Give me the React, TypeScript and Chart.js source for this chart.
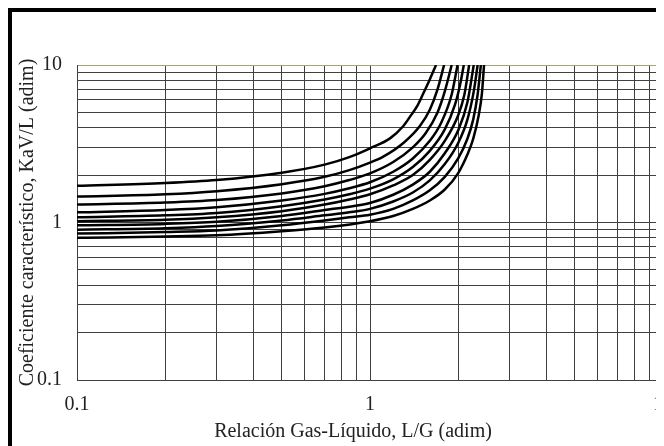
import React, { useEffect, useRef } from "react";
import { Chart, registerables } from "chart.js";

Chart.register(...registerables);

// Grid (log minor ticks) and labelled ticks
const GRID_TICKS = [0.1, 0.2, 0.3, 0.4, 0.5, 0.6, 0.7, 0.8, 0.9, 1, 2, 3, 4, 5, 6, 7, 8, 9, 10];
const LABELED_TICKS = [0.1, 1, 10];

const X_TITLE = "Relación Gas-Líquido, L/G (adim)";
const Y_TITLE = "Coeficiente característico, KaV/L (adim)";

// Characteristic curves: [L/G, KaV/L]
const curve1 = [[0.1, 1.71], [0.2, 1.78], [0.3, 1.86], [0.5, 2.07], [0.7, 2.33], [0.85, 2.6], [1.0, 2.96], [1.17, 3.42], [1.3, 4.1], [1.37, 4.7], [1.45, 5.5], [1.52, 6.6], [1.6, 8.1], [1.68, 10]];
const curve2 = [[0.1, 1.46], [0.2, 1.51], [0.3, 1.58], [0.5, 1.75], [0.7, 1.95], [0.85, 2.15], [1.0, 2.4], [1.11, 2.62], [1.3, 3.2], [1.48, 4.1], [1.6, 5.2], [1.7, 7.0], [1.79, 10]];
const curve3 = [[0.1, 1.3], [0.2, 1.34], [0.3, 1.39], [0.5, 1.53], [0.7, 1.7], [0.85, 1.86], [1.0, 2.05], [1.2, 2.42], [1.4, 3.0], [1.55, 3.7], [1.7, 5.0], [1.8, 6.8], [1.9, 10]];
const curve4 = [[0.1, 1.16], [0.2, 1.2], [0.3, 1.25], [0.5, 1.38], [0.7, 1.52], [0.85, 1.65], [1.0, 1.8], [1.2, 2.1], [1.4, 2.55], [1.6, 3.3], [1.75, 4.3], [1.9, 6.5], [1.99, 10]];
const curve5 = [[0.1, 1.08], [0.2, 1.11], [0.3, 1.15], [0.5, 1.27], [0.7, 1.4], [0.85, 1.51], [1.0, 1.64], [1.2, 1.88], [1.4, 2.25], [1.6, 2.85], [1.8, 3.9], [1.95, 5.6], [2.03, 7.5], [2.09, 10]];
const curve6 = [[0.1, 1.02], [0.2, 1.04], [0.3, 1.08], [0.5, 1.18], [0.7, 1.3], [0.85, 1.4], [1.0, 1.51], [1.2, 1.72], [1.4, 2.0], [1.6, 2.5], [1.8, 3.3], [2.0, 4.8], [2.1, 6.5], [2.18, 10]];
const curve7 = [[0.1, 0.96], [0.2, 0.98], [0.3, 1.01], [0.5, 1.1], [0.7, 1.2], [0.85, 1.26], [1.0, 1.33], [1.2, 1.5], [1.4, 1.74], [1.6, 2.1], [1.8, 2.75], [2.0, 3.85], [2.15, 5.8], [2.26, 10]];
const curve8 = [[0.1, 0.9], [0.2, 0.92], [0.3, 0.95], [0.5, 1.03], [0.7, 1.11], [0.85, 1.16], [1.0, 1.22], [1.2, 1.36], [1.4, 1.55], [1.6, 1.85], [1.8, 2.35], [2.0, 3.2], [2.15, 4.5], [2.26, 6.8], [2.33, 10]];
const curve9 = [[0.1, 0.85], [0.2, 0.87], [0.3, 0.89], [0.5, 0.96], [0.7, 1.03], [0.85, 1.08], [1.0, 1.12], [1.2, 1.22], [1.4, 1.38], [1.6, 1.6], [1.8, 1.95], [2.0, 2.55], [2.15, 3.4], [2.25, 4.5], [2.33, 6.5], [2.39, 10]];
const curve10 = [[0.1, 0.8], [0.3, 0.83], [0.5, 0.88], [0.7, 0.93], [1.0, 1.02], [1.2, 1.1], [1.4, 1.22], [1.6, 1.38], [1.8, 1.62], [2.0, 2.06], [2.15, 2.7], [2.25, 3.4], [2.35, 4.8], [2.41, 6.6], [2.45, 10]];

const CURVES = [curve1, curve2, curve3, curve4, curve5, curve6, curve7, curve8, curve9, curve10];

const FONT_FAMILY = "'Liberation Serif', 'Times New Roman', serif";
const FONT_SIZE = 20;
const TEXT_COLOR = "#222";
const GRID_COLOR = "#404040";
const TOP_LINE_COLOR = "#a8a27a";

function setGridTicks(scale: any) {
  scale.ticks = GRID_TICKS.map((v) => ({ value: v }));
}

function tickLabel(value: any) {
  return LABELED_TICKS.includes(Number(value)) ? String(value) : "";
}

// x-axis title, drawn slightly left of the plot centre as in the original
const xTitlePlugin = {
  id: "xTitle",
  afterDraw(chart: any) {
    const { ctx, chartArea } = chart;
    ctx.save();
    ctx.font = `${FONT_SIZE}px ${FONT_FAMILY}`;
    ctx.fillStyle = TEXT_COLOR;
    ctx.textAlign = "center";
    ctx.textBaseline = "middle";
    const cx = (chartArea.left + chartArea.right) / 2 - 17;
    ctx.fillText(X_TITLE, cx, chart.height - 14);
    ctx.restore();
  },
};

export default function App() {
  const canvasRef = useRef<HTMLCanvasElement | null>(null);

  useEffect(() => {
    const canvas = canvasRef.current;
    if (!canvas) return;
    const chart = new Chart(canvas, {
      type: "scatter",
      data: {
        datasets: CURVES.map((c, i) => ({
          label: "curve " + (i + 1),
          data: c.map(([x, y]) => ({ x, y })),
          showLine: true,
          borderColor: "#000",
          borderWidth: 2.5,
          pointRadius: 0,
          pointHoverRadius: 0,
          cubicInterpolationMode: "monotone" as const,
          fill: false,
        })),
      },
      options: {
        animation: false,
        responsive: false,
        maintainAspectRatio: false,
        events: [],
        layout: { padding: { top: 53, right: 1, left: 0, bottom: 0 } },
        plugins: {
          legend: { display: false },
          tooltip: { enabled: false },
          title: { display: false },
        },
        scales: {
          x: {
            type: "logarithmic",
            min: 0.1,
            max: 10,
            afterBuildTicks: setGridTicks,
            afterFit: (scale: any) => {
              scale.height = 66;
              scale.paddingLeft = 0;
              scale.paddingRight = 0;
            },
            grid: { color: GRID_COLOR, lineWidth: 1, drawTicks: false },
            border: { display: true, color: GRID_COLOR, width: 1 },
            ticks: {
              autoSkip: false,
              maxRotation: 0,
              minRotation: 0,
              padding: 13,
              color: TEXT_COLOR,
              font: { family: FONT_FAMILY, size: FONT_SIZE },
              callback: tickLabel,
            },
            title: { display: false },
          },
          y: {
            type: "logarithmic",
            min: 0.1,
            max: 10,
            afterBuildTicks: setGridTicks,
            afterFit: (scale: any) => {
              scale.width = 65;
              scale.paddingTop = 0;
              scale.paddingBottom = 0;
            },
            grid: {
              color: (ctx: any) => (ctx.tick && ctx.tick.value === 10 ? TOP_LINE_COLOR : GRID_COLOR),
              lineWidth: 1,
              drawTicks: false,
            },
            border: { display: true, color: GRID_COLOR, width: 1 },
            ticks: {
              autoSkip: false,
              padding: 15,
              color: TEXT_COLOR,
              font: { family: FONT_FAMILY, size: FONT_SIZE },
              callback: tickLabel,
            },
            title: {
              display: true,
              text: Y_TITLE,
              color: TEXT_COLOR,
              font: { family: FONT_FAMILY, size: FONT_SIZE },
              padding: { top: 4, bottom: 0 },
            },
          },
        },
      },
      plugins: [xTitlePlugin],
    } as any);
    return () => chart.destroy();
  }, []);

  return (
    <div
      style={{
        width: 652,
        height: 434,
        borderLeft: "4px solid #000",
        borderTop: "4px solid #000",
        overflow: "hidden",
        background: "#fff",
      }}
    >
      <canvas ref={canvasRef} width={652} height={434} style={{ display: "block", width: 652, height: 434 }} />
    </div>
  );
}
